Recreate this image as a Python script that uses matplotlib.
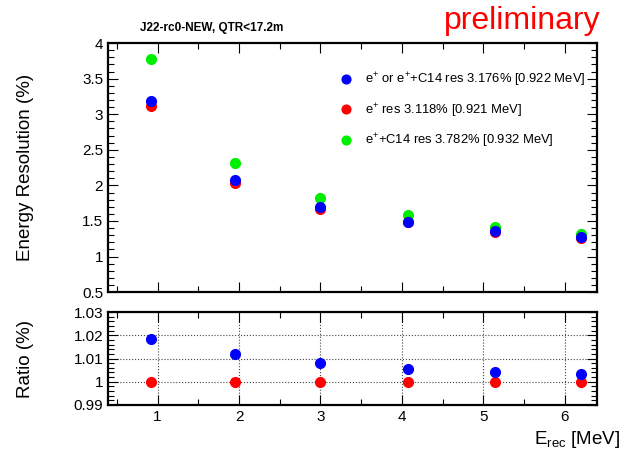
import matplotlib
matplotlib.use("Agg")
import matplotlib.pyplot as plt
from matplotlib.ticker import MultipleLocator

plt.rcParams['font.family'] = ['Liberation Sans', 'DejaVu Sans']
plt.rcParams['mathtext.fontset'] = 'custom'
plt.rcParams['mathtext.rm'] = 'Liberation Sans'
plt.rcParams['mathtext.it'] = 'Liberation Sans:italic'

# Data
energy = [0.92, 1.95, 3.00, 4.07, 5.14, 6.20]
res_all = [3.18, 2.07, 1.69, 1.49, 1.36, 1.27]
res_pos = [3.12, 2.03, 1.67, 1.49, 1.35, 1.26]
res_c14 = [3.78, 2.31, 1.82, 1.58, 1.42, 1.32]
ratio_all = [1.0185, 1.012, 1.008, 1.0053, 1.004, 1.0033]
ratio_pos = [1.0, 1.0, 1.0, 1.0, 1.0, 1.0]

lab_all = r'e$^{+}$ or e$^{+}$+C14 res 3.176% [0.922 MeV]'
lab_pos = r'e$^{+}$ res 3.118% [0.921 MeV]'
lab_c14 = r'e$^{+}$+C14 res 3.782% [0.932 MeV]'

fig = plt.figure(figsize=(6.24, 4.53), dpi=100)
ax1 = fig.add_axes([0.173, 0.355, 0.784, 0.550])
ax2 = fig.add_axes([0.173, 0.106, 0.784, 0.205])

ms = 7
hg, = ax1.plot(energy, res_c14, 'o', color='#00ee00', ms=ms, label=lab_c14)
hr, = ax1.plot(energy, res_pos, 'o', color='#ff0000', ms=ms, label=lab_pos)
hb, = ax1.plot(energy, res_all, 'o', color='#0000ff', ms=ms, label=lab_all)

ax2.plot(energy, ratio_pos, 'o', color='#ff0000', ms=ms)
ax2.plot(energy, ratio_all, 'o', color='#0000ff', ms=ms)

for ax in (ax1, ax2):
    ax.set_xlim(0.39, 6.4)
    ax.xaxis.set_major_locator(MultipleLocator(1))
    ax.xaxis.set_minor_locator(MultipleLocator(0.5))
    ax.tick_params(which='both', direction='in', top=True, right=True, labelsize=11)
    ax.tick_params(which='major', length=7, width=0.8)
    ax.tick_params(which='minor', length=4, width=0.8)
    for s in ax.spines.values():
        s.set_linewidth(1.6)

ax1.set_ylim(0.5, 4.0)
ax1.yaxis.set_minor_locator(MultipleLocator(0.1))
ax1.set_yticks([0.5, 1, 1.5, 2, 2.5, 3, 3.5, 4])
ax1.set_yticklabels(['0.5', '1', '1.5', '2', '2.5', '3', '3.5', '4'])
ax1.tick_params(labelbottom=False)
ax1.set_ylabel('Energy Resolution (%)', fontsize=13.5)
ax1.yaxis.set_label_coords(-0.152, 0.5)

ax2.set_ylim(0.99, 1.03)
ax2.set_yticks([0.99, 1.0, 1.01, 1.02, 1.03])
ax2.set_yticklabels(['0.99', '1', '1.01', '1.02', '1.03'])
ax2.yaxis.set_minor_locator(MultipleLocator(0.002))
ax2.set_xticks([1, 2, 3, 4, 5, 6])
ax2.grid(True, which='major', linestyle=':', color='#444444', linewidth=0.8)
ax2.set_ylabel('Ratio (%)', fontsize=13.5)
ax2.yaxis.set_label_coords(-0.152, 0.5)

fig.text(0.994, 1 - 440 / 453, r'E$_{\rm rec}$ [MeV]', fontsize=13.5, ha='right', va='center')

leg = ax1.legend(handles=[hb, hr, hg], loc='upper left', bbox_to_anchor=(0.45, 0.935),
                 frameon=False, fontsize=9.4, handletextpad=0.9, labelspacing=0.95,
                 handlelength=1.0, markerscale=0.9)

fig.text(0.34, 0.925, 'J22-rc0-NEW, QTR<17.2m', fontsize=8.5, fontweight='bold',
         ha='center', va='bottom')
fig.text(0.962, 0.92, 'preliminary', fontsize=23, color='#ff0000', ha='right', va='bottom')

fig.savefig('out.png', dpi=100)
